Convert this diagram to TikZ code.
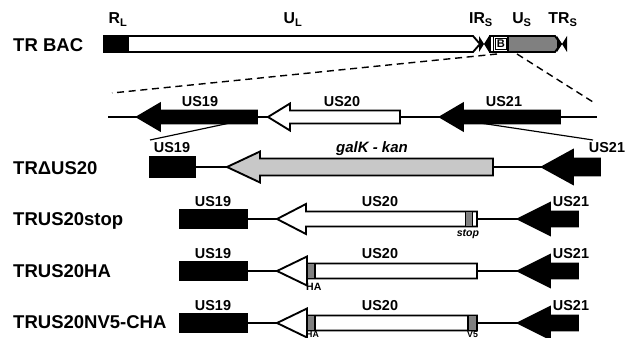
\documentclass[tikz,border=0pt]{standalone}
\usepackage{fontspec}
\setmainfont{Liberation Sans}

% block arrow pointing left: fill, apex, head base, tail, y, head half, body half
\newcommand{\blockarrow}[7]{%
  \draw[gene, fill=#1] (#2,#5) -- (#3,#5-#6) -- (#3,#5-#7) -- (#4,#5-#7)
    -- (#4,#5+#7) -- (#3,#5+#7) -- (#3,#5+#6) -- cycle;}
% small black bow tie (repeat ends)
\newcommand{\repeattie}[2]{%
  \fill (#1,#2-8) -- (#1+5,#2) -- (#1,#2+8) -- cycle;
  \fill (#1+10,#2-8) -- (#1+5,#2) -- (#1+10,#2+8) -- cycle;}

\tikzset{
  gene/.style={draw=black, line width=1.6pt, line join=miter},
  backbone/.style={line width=1pt},
  zoomline/.style={line width=1.2pt, dash pattern=on 6pt off 4pt},
  strainlabel/.style={anchor=base west, inner sep=0pt,
    font=\fontsize{15.8}{18}\selectfont\bfseries},
  genelabel/.style={anchor=base, inner sep=0pt,
    font=\fontsize{12.3}{14}\selectfont\bfseries},
  regionlabel/.style={anchor=base, inner sep=0pt,
    font=\fontsize{13.5}{15}\selectfont\bfseries},
  taglabel/.style={anchor=base, inner sep=0pt,
    font=\fontsize{9}{10}\selectfont\bfseries},
}
\definecolor{regiongray}{RGB}{128,128,128}
\definecolor{cassettegray}{RGB}{200,200,200}

\begin{document}
\begin{tikzpicture}[x=0.03cm, y=-0.03cm]
    \useasboundingbox (0,0) rectangle (633,338);

    % TR BAC genome
    \node[strainlabel] (bac) at (13,52) {TR BAC};
    \draw[gene, fill=black] (104,36) rectangle (128,52);
    \draw[gene, fill=white] (128,36) -- (473,36) -- (480,44) -- (473,52) -- (128,52) -- cycle;
    \repeattie{479}{44}
    \draw[gene, fill=regiongray] (490,36) -- (555,36) -- (561,44) -- (555,52) -- (490,52) -- cycle;
    \draw[gene, fill=white] (490,36) rectangle (508,52);
    \draw[line width=0.8pt] (493,36) -- (493,52);
    \draw[line width=0.8pt, fill=white] (495.5,38.5) rectangle (506,49.5);
    \node[inner sep=0pt, font=\fontsize{9.5}{10}\selectfont\bfseries] (bbox) at (500.8,44) {B};
    \repeattie{557}{44}
    \node[regionlabel] (rl) at (118,24) {R\textsubscript{L}};
    \node[regionlabel] (ul) at (293,24) {U\textsubscript{L}};
    \node[regionlabel] (irs) at (481,24) {IR\textsubscript{S}};
    \node[regionlabel] (us) at (522,24) {U\textsubscript{S}};
    \node[regionlabel] (trs) at (563,24) {TR\textsubscript{S}};

    % expanded region
    \coordinate (zoomL) at (497,54);
    \coordinate (zoomR) at (517,54);
    \coordinate (rowL) at (112,93);
    \coordinate (rowR) at (593,102);
    \draw[zoomline] (zoomL) -- (rowL);
    \draw[zoomline] (zoomR) -- (rowR);
    \coordinate (lineL) at (108,117);
    \coordinate (lineR) at (597,117);
    \draw[backbone] (lineL) -- (lineR);
    \blockarrow{black}{137}{160}{257}{117}{13.5}{6.5}
    \blockarrow{white}{268}{290}{400}{117}{13.5}{6.5}
    \blockarrow{black}{440}{463}{560}{117}{13.5}{6.5}
    \node[genelabel] (a19) at (200,107) {US19};
    \node[genelabel] (a20) at (342,107) {US20};
    \node[genelabel] (a21) at (504,107) {US21};
    \coordinate (us19top) at (230,123);
    \coordinate (us19low) at (150,140);
    \coordinate (us21top) at (480,123);
    \coordinate (us21low) at (593,140);
    \draw[backbone] (us19top) -- (us19low);
    \draw[backbone] (us21top) -- (us21low);

    % TR delta US20
    \node[strainlabel] (del) at (13,175) {TRΔUS20};
    \draw[backbone] (195,167) -- (542,167);
    \draw[gene, fill=black] (150,157) rectangle (195,177);
    \blockarrow{cassettegray}{227}{260}{493}{167}{15.5}{8.5}
    \blockarrow{black}{542}{573}{600}{167}{17}{8.5}
    \node[genelabel] (b19) at (172,153) {US19};
    \node[genelabel, font=\fontsize{12.8}{14}\selectfont\bfseries\itshape] (galk) at (372,153) {galK - kan};
    \node[genelabel] (b21) at (607,153) {US21};

    % TRUS20stop
    \node[strainlabel] (stp) at (13,225) {TRUS20stop};
    \draw[backbone] (247,219) -- (518,219);
    \draw[gene, fill=black] (180,209.5) rectangle (247,228.5);
    \blockarrow{white}{277}{306}{477}{219}{15}{7.5}
    \draw[line width=0.8pt, fill=regiongray] (465,211.5) rectangle (472,226.5);
    \blockarrow{black}{518}{550}{578}{219}{16}{7.5}
    \node[genelabel] (c19) at (213,207) {US19};
    \node[genelabel] (c20) at (380,207) {US20};
    \node[genelabel] (c21) at (571,207) {US21};
    \node[taglabel, font=\fontsize{9}{10}\selectfont\bfseries\itshape] (ctag) at (468,236) {stop};

    % TRUS20HA
    \node[strainlabel] (ha) at (13,278) {TRUS20HA};
    \draw[backbone] (247,271) -- (518,271);
    \draw[gene, fill=black] (180,261.5) rectangle (247,280.5);
    \blockarrow{white}{277}{307}{477}{271}{14.5}{7.5}
    \draw[gene, fill=regiongray] (307,263.5) rectangle (315,278.5);
    \blockarrow{black}{518}{550}{578}{271}{16}{7.5}
    \node[genelabel] (d19) at (213,258) {US19};
    \node[genelabel] (d20) at (380,258) {US20};
    \node[genelabel] (d21) at (571,258) {US21};
    \node[taglabel, anchor=base west] (dtag) at (306,290) {HA};

    % TRUS20NV5-CHA
    \node[strainlabel] (nc) at (13,328) {TRUS20NV5-CHA};
    \draw[backbone] (247,323) -- (518,323);
    \draw[gene, fill=black] (180,313.5) rectangle (247,332.5);
    \blockarrow{white}{277}{307}{477}{323}{14.5}{7.5}
    \draw[gene, fill=regiongray] (307,315.5) rectangle (315,330.5);
    \draw[gene, fill=regiongray] (468,315.5) rectangle (477,330.5);
    \blockarrow{black}{518}{550}{578}{323}{16}{7.5}
    \node[genelabel] (e19) at (213,310) {US19};
    \node[genelabel] (e20) at (380,310) {US20};
    \node[genelabel] (e21) at (571,310) {US21};
    \node[taglabel, anchor=base west, font=\fontsize{7.5}{8}\selectfont\bfseries] (etag1) at (306,337.8) {HA};
    \node[taglabel, anchor=base west, font=\fontsize{7.5}{8}\selectfont\bfseries] (etag2) at (467,337.8) {V5};
\end{tikzpicture}
\end{document}
